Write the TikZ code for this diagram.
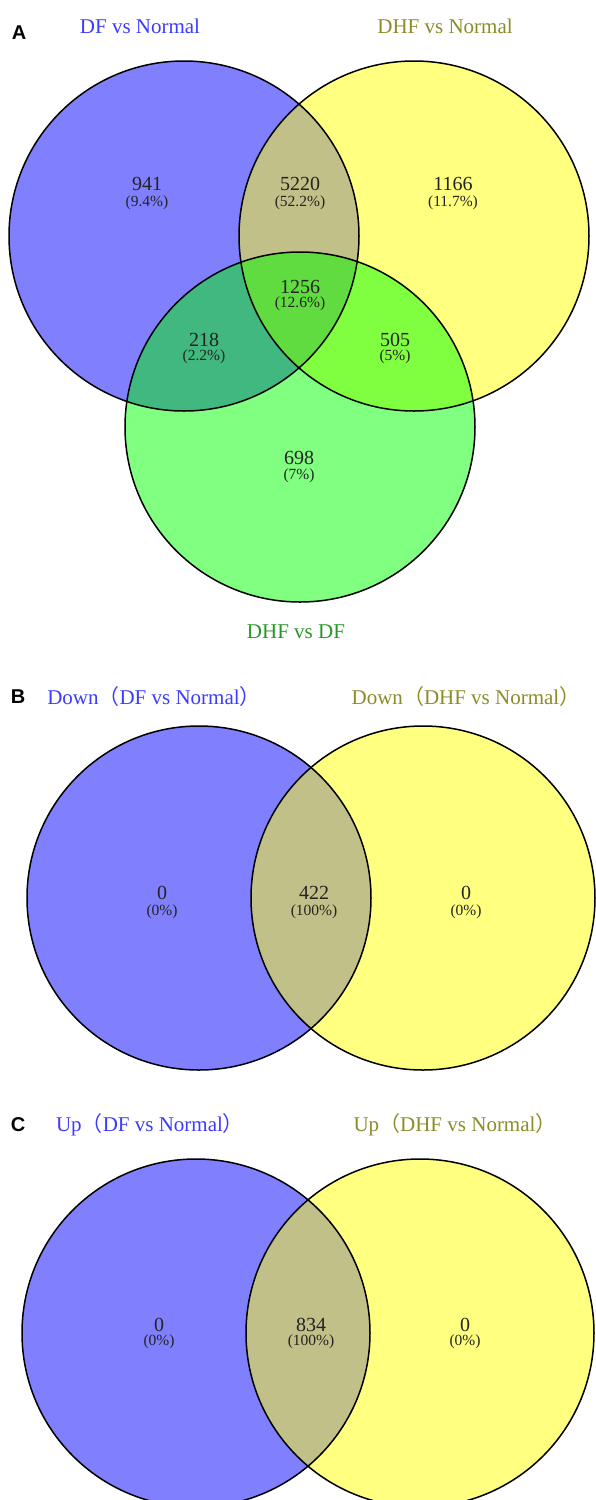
\documentclass[tikz,border=0pt]{standalone}
\usepackage{fontspec}
\setmainfont{Liberation Serif}
\setsansfont{Liberation Sans}
\newfontfamily\cjk{Noto Sans CJK SC}
\newcommand{\lp}{{\cjk （}}
\newcommand{\rp}{{\cjk ）}}
\definecolor{cblue}{RGB}{128,128,255}
\definecolor{cyel}{RGB}{255,255,128}
\definecolor{cgreen}{RGB}{128,255,128}
\definecolor{cby}{RGB}{192,192,136}
\definecolor{cbg}{RGB}{64,184,128}
\definecolor{cyg}{RGB}{128,255,64}
\definecolor{cbyg}{RGB}{96,220,64}
\definecolor{tblue}{RGB}{60,60,255}
\definecolor{tolive}{RGB}{140,140,40}
\definecolor{tgreen}{RGB}{40,150,40}
\definecolor{tnum}{RGB}{35,35,35}
\begin{document}
\begin{tikzpicture}[x=1pt,y=-1pt,
  outline/.style={draw=black,line width=1.5pt},
  setlabel/.style={font=\fontsize{21}{24}\selectfont,inner sep=0pt,anchor=center},
  panel/.style={font=\sffamily\bfseries\fontsize{20}{22}\selectfont,inner sep=0pt},
  count/.style={font=\fontsize{20}{22}\selectfont,text=tnum,inner sep=0pt},
  pct/.style={font=\fontsize{15.5}{17}\selectfont,text=tnum,inner sep=0pt}]
\useasboundingbox (0,0) rectangle (596,1500);
\fill[white] (0,0) rectangle (596,1500);
\clip (0,0) rectangle (596,1500);
% ---------- Panel A ----------
\def\R{175}
\coordinate (a1) at (184,236);
\coordinate (a2) at (414,236);
\coordinate (a3) at (300,427);
\fill[cblue] (a1) circle[radius=\R];
\fill[cyel] (a2) circle[radius=\R];
\fill[cgreen] (a3) circle[radius=\R];
\begin{scope}
  \clip (a1) circle[radius=\R];
  \fill[cby] (a2) circle[radius=\R];
  \fill[cbg] (a3) circle[radius=\R];
\end{scope}
\begin{scope}
  \clip (a2) circle[radius=\R];
  \fill[cyg] (a3) circle[radius=\R];
\end{scope}
\begin{scope}
  \clip (a1) circle[radius=\R];
  \clip (a2) circle[radius=\R];
  \fill[cbyg] (a3) circle[radius=\R];
\end{scope}
\draw[outline] (a1) circle[radius=\R];
\draw[outline] (a2) circle[radius=\R];
\draw[outline] (a3) circle[radius=\R];
\node[panel] (pA) at (19,33) {A};
\node[setlabel,text=tblue] (lA1) at (140,26) {DF vs Normal};
\node[setlabel,text=tolive] (lA2) at (445,26) {DHF vs Normal};
\node[setlabel,text=tgreen] (lA3) at (296,632) {DHF vs DF};
\node[count] (n941) at (147,184) {941};
\node[pct] (p941) at (147,203) {(9.4\%)};
\node[count] (n5220) at (300,184) {5220};
\node[pct] (p5220) at (300,203) {(52.2\%)};
\node[count] (n1166) at (453,184) {1166};
\node[pct] (p1166) at (453,203) {(11.7\%)};
\node[count] (n1256) at (300,287) {1256};
\node[pct] (p1256) at (300,304) {(12.6\%)};
\node[count] (n218) at (204,340) {218};
\node[pct] (p218) at (204,357) {(2.2\%)};
\node[count] (n505) at (395,340) {505};
\node[pct] (p505) at (395,357) {(5\%)};
\node[count] (n698) at (299,458) {698};
\node[pct] (p698) at (299,476) {(7\%)};
% ---------- Panel B ----------
\def\Rb{172}
\coordinate (b1) at (199,898);
\coordinate (b2) at (423,898);
\fill[cblue] (b1) circle[radius=\Rb];
\fill[cyel] (b2) circle[radius=\Rb];
\begin{scope}
  \clip (b1) circle[radius=\Rb];
  \fill[cby] (b2) circle[radius=\Rb];
\end{scope}
\draw[outline] (b1) circle[radius=\Rb];
\draw[outline] (b2) circle[radius=\Rb];
\node[panel] (pB) at (18,697) {B};
\node[setlabel,text=tblue] (lB1) at (154,697) {Down\lp DF vs Normal\rp};
\node[setlabel,text=tolive] (lB2) at (466,697) {Down\lp DHF vs Normal\rp};
\node[count] (nb1) at (162,893) {0};
\node[pct] (pb1) at (162,912) {(0\%)};
\node[count] (nb2) at (314,893) {422};
\node[pct] (pb2) at (314,912) {(100\%)};
\node[count] (nb3) at (466,893) {0};
\node[pct] (pb3) at (466,912) {(0\%)};
% ---------- Panel C ----------
\def\Rc{174}
\coordinate (c1) at (196,1333);
\coordinate (c2) at (420,1333);
\fill[cblue] (c1) circle[radius=\Rc];
\fill[cyel] (c2) circle[radius=\Rc];
\begin{scope}
  \clip (c1) circle[radius=\Rc];
  \fill[cby] (c2) circle[radius=\Rc];
\end{scope}
\draw[outline] (c1) circle[radius=\Rc];
\draw[outline] (c2) circle[radius=\Rc];
\node[panel] (pC) at (18,1125) {C};
\node[setlabel,text=tblue] (lC1) at (150,1125) {Up\lp DF vs Normal\rp};
\node[setlabel,text=tolive] (lC2) at (455,1125) {Up\lp DHF vs Normal\rp};
\node[count] (nc1) at (159,1325) {0};
\node[pct] (pc1) at (159,1342) {(0\%)};
\node[count] (nc2) at (311,1325) {834};
\node[pct] (pc2) at (311,1342) {(100\%)};
\node[count] (nc3) at (465,1325) {0};
\node[pct] (pc3) at (465,1342) {(0\%)};
\end{tikzpicture}
\end{document}
